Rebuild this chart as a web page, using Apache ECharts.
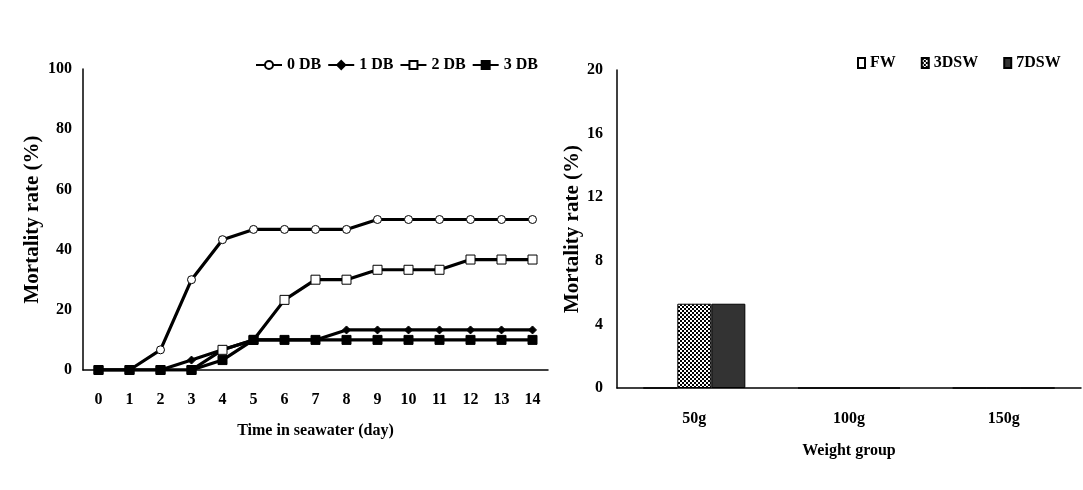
<!DOCTYPE html>
<html><head><meta charset="utf-8">
<script src="https://cdn.jsdelivr.net/npm/echarts@6/dist/echarts.min.js"></script>
<style>html,body{margin:0;padding:0;background:#fff}#c{width:1083px;height:490px}</style>
</head><body><div id="c"></div>
<script>
const days = ['0','1','2','3','4','5','6','7','8','9','10','11','12','13','14'];
const db0 = [0,0,6.7,30,43.3,46.7,46.7,46.7,46.7,50,50,50,50,50,50];
const db1 = [0,0,0,3.3,6.7,10,10,10,13.3,13.3,13.3,13.3,13.3,13.3,13.3];
const db2 = [0,0,0,0,6.7,10,23.3,30,30,33.3,33.3,33.3,36.7,36.7,36.7];
const db3 = [0,0,0,0,3.3,10,10,10,10,10,10,10,10,10,10];
const weightGroups = ['50g','100g','150g'];
const fw = [0,0,0];
const dsw3 = [5.3,0,0];
const dsw7 = [5.3,0,0];

const FONT = 'Liberation Serif';
const chart = echarts.init(document.getElementById('c'), null, {renderer:'canvas'});

const pc = document.createElement('canvas');
pc.width = 4; pc.height = 4;
const px = pc.getContext('2d');
px.fillStyle = '#fff'; px.fillRect(0,0,4,4);
px.fillStyle = '#000'; px.fillRect(0,0,2,2); px.fillRect(2,2,2,2);

const lbl = {fontFamily:FONT, fontWeight:'bold', fontSize:16, color:'#000'};
const nameX = {fontFamily:FONT, fontWeight:'bold', fontSize:16, color:'#000'};
const nameY = {fontFamily:FONT, fontWeight:'bold', fontSize:21, color:'#000'};
const axLine = {show:true, lineStyle:{color:'#000', width:1.5}};

function lineSeries(name, data, symbol, fill, size){
  return {name, type:'line', data, xAxisIndex:0, yAxisIndex:0, symbol, symbolSize:size,
    showAllSymbol:true, lineStyle:{color:'#000', width:3.2}, itemStyle:{color:fill, borderColor:'#000', borderWidth:1}};
}
function barSeries(name, data, color){
  return {name, type:'bar', xAxisIndex:1, yAxisIndex:1, data, barWidth:34, barGap:'0%',
    itemStyle:{color, borderColor:'#000', borderWidth:1}};
}

chart.setOption({
  animation:false,
  grid:[
    {left:83, right:535, top:69, bottom:120},
    {left:617, right:2, top:70, bottom:102}
  ],
  legend:[
    {data:['0 DB','1 DB','2 DB','3 DB'], left:250, top:52, itemGap:6, itemWidth:26, itemHeight:10,
     textStyle:{fontFamily:FONT, fontWeight:'bold', fontSize:16, color:'#000'}},
    {data:['FW','3DSW','7DSW'], left:852, top:50, itemGap:25, itemWidth:7, itemHeight:10, icon:'rect',
     textStyle:{fontFamily:FONT, fontWeight:'bold', fontSize:16, color:'#000'}}
  ],
  xAxis:[
    {type:'category', gridIndex:0, data:days, boundaryGap:true, axisLine:axLine, axisTick:{show:false},
     axisLabel:Object.assign({margin:22}, lbl), name:'Time in seawater (day)', nameLocation:'middle', nameGap:53, nameTextStyle:nameX},
    {type:'category', gridIndex:1, data:weightGroups, axisLine:axLine, axisTick:{show:false},
     axisLabel:Object.assign({margin:23}, lbl), name:'Weight group', nameLocation:'middle', nameGap:55, nameTextStyle:nameX}
  ],
  yAxis:[
    {type:'value', gridIndex:0, min:0, max:100, interval:20, axisLine:axLine, axisTick:{show:false}, splitLine:{show:false},
     axisLabel:Object.assign({margin:11}, lbl), name:'Mortality rate (%)', nameLocation:'middle', nameGap:40, nameTextStyle:nameY},
    {type:'value', gridIndex:1, min:0, max:20, interval:4, axisLine:axLine, axisTick:{show:false}, splitLine:{show:false},
     axisLabel:Object.assign({margin:14}, lbl), name:'Mortality rate (%)', nameLocation:'middle', nameGap:30, nameTextStyle:nameY}
  ],
  series:[
    lineSeries('0 DB', db0, 'circle', '#fff', 8),
    lineSeries('1 DB', db1, 'diamond', '#000', 8),
    lineSeries('2 DB', db2, 'rect', '#fff', 9),
    lineSeries('3 DB', db3, 'rect', '#000', 9),
    barSeries('FW', fw, '#fff'),
    barSeries('3DSW', dsw3, {image:pc, repeat:'repeat'}),
    barSeries('7DSW', dsw7, '#333')
  ]
});
</script></body></html>
